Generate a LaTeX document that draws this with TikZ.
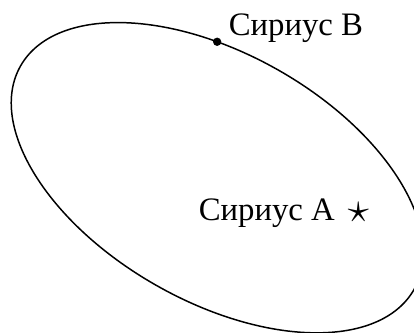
\documentclass[tikz,border=0pt]{standalone}
\usepackage{fontspec}
\setmainfont{Liberation Serif}
\begin{document}
\begin{tikzpicture}[
  orbit/.style={line width=0.5pt},
  lbl/.style={font=\fontsize{11}{13}\selectfont, inner sep=1pt},
  starmark/.style={font=\fontsize{14}{16}\selectfont, inner sep=0pt},
]
\useasboundingbox (-2.564,2.097) rectangle (2.321,-1.832);

% orbit of the companion
\begin{scope}[rotate=-29.6]
  \draw[orbit] (0,0) ellipse (2.67cm and 1.46cm);
  \coordinate (siriusB) at (107.3:2.67cm and 1.46cm);
\end{scope}

% Sirius B on the orbit
\fill (siriusB) circle (1.4pt);
\node[lbl, anchor=base west] (labelB) at ([xshift=2.7pt,yshift=2pt]siriusB) {Сириус B};

% Sirius A
\coordinate (siriusA) at (1.666,-0.411);
\node[starmark] (starA) at (siriusA) {$\star$};
\node[lbl, anchor=base east] (labelA) at ([xshift=-3pt,yshift=-2.7pt]starA.west) {Сириус A};
\end{tikzpicture}
\end{document}
